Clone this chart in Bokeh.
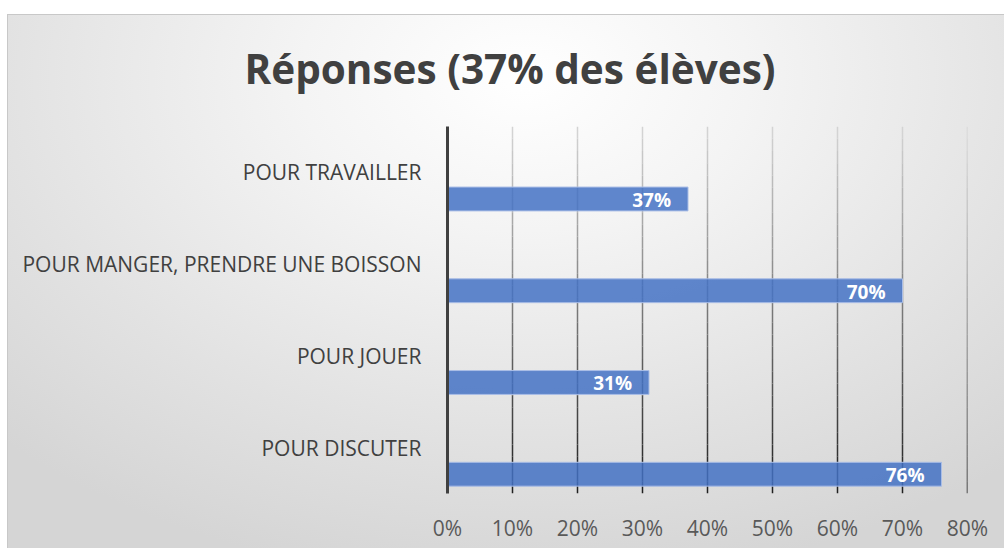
from bokeh.plotting import figure
from bokeh.models import FixedTicker, ColumnDataSource, Title
from bokeh.core.properties import value
from bokeh.embed import file_html
from bokeh.resources import INLINE

# ---- data ----
categories = ["POUR DISCUTER", "POUR JOUER", "POUR MANGER, PRENDRE UNE BOISSON", "POUR TRAVAILLER"]
values = [76, 31, 70, 37]
x_ticks = [0, 10, 20, 30, 40, 50, 60, 70, 80]
title_text = "Réponses (37% des élèves)"

FONT = "Open Sans"

p = figure(width=997, height=534, output_backend="svg", toolbar_location=None,
           x_range=(0, 80), y_range=(0, 4),
           min_border_left=440, min_border_right=37, min_border_top=112, min_border_bottom=55)
p.styles = {
    "margin-left": "7px", "margin-top": "14px",
    "background": "radial-gradient(ellipse 75% 95% at 52% 12%, #ffffff 0%, #f4f4f4 30%, #e2e2e2 70%, #d5d5d5 100%)",
    "box-shadow": "inset 1px 1px 0 #c8c8c8",
}
p.border_fill_color = None
p.background_fill_color = None
p.outline_line_color = None
p.xgrid.visible = False
p.ygrid.visible = False

# title (with a blank spacer between it and the frame)
p.add_layout(Title(text=" ", text_font_size="16px", standoff=0), "above")
p.title = Title(text=title_text, align="left", offset=-203, text_font=FONT, text_font_style="bold",
                text_font_size="40.5px", text_color="#404040", standoff=20, vertical_align="top")

# gradient gridlines (light at top, dark at bottom)
nseg = 30
gx0, gx1, gy0, gy1, gc = [], [], [], [], []
for t in x_ticks[1:]:
    for k in range(nseg):
        ya = 4 - 4 * k / nseg
        yb = 4 - 4 * (k + 1) / nseg
        f = (k + 0.5) / nseg
        g = int(215 - f * 185)
        gx0.append(t); gx1.append(t); gy0.append(ya); gy1.append(yb)
        gc.append("#%02x%02x%02x" % (g, g, g))
p.segment(x0=gx0, y0=gy0, x1=gx1, y1=gy1, line_color=gc, line_width=1.5)

# bars
ypos = [i + 0.21 for i in range(len(categories))]
src = ColumnDataSource(dict(y=ypos, v=values, lab=["%d%%" % v for v in values]))
p.hbar(y="y", left=0, right="v", height=0.26, source=src,
       fill_color="#4472c4", fill_alpha=0.85, line_color="#a9bde6", line_width=1)
p.text(x="v", y="y", text="lab", source=src, text_align="right", text_baseline="middle",
       x_offset=-17, y_offset=1, text_color="white", text_font=value(FONT),
       text_font_style="bold", text_font_size="19px")

# y axis: dark line with category labels above the bars
p.yaxis.ticker = FixedTicker(ticks=[i + 0.50 for i in range(len(categories))])
p.yaxis.major_label_overrides = {i + 0.50: c for i, c in enumerate(categories)}
p.yaxis.axis_line_color = "#404040"
p.yaxis.axis_line_width = 3
p.yaxis.major_tick_line_color = None
p.yaxis.minor_tick_line_color = None
p.yaxis.major_label_standoff = 20
p.yaxis.major_label_text_font = FONT
p.yaxis.major_label_text_font_size = "21px"
p.yaxis.major_label_text_color = "#404040"

# x axis
p.xaxis.ticker = FixedTicker(ticks=x_ticks)
p.xaxis.major_label_overrides = {t: "%d%%" % t for t in x_ticks}
p.xaxis.axis_line_color = None
p.xaxis.major_tick_line_color = None
p.xaxis.minor_tick_line_color = None
p.xaxis.major_label_standoff = 14
p.xaxis.major_label_text_font = FONT
p.xaxis.major_label_text_font_size = "21px"
p.xaxis.major_label_text_color = "#595959"

open("out.html", "w").write(file_html(p, INLINE))
